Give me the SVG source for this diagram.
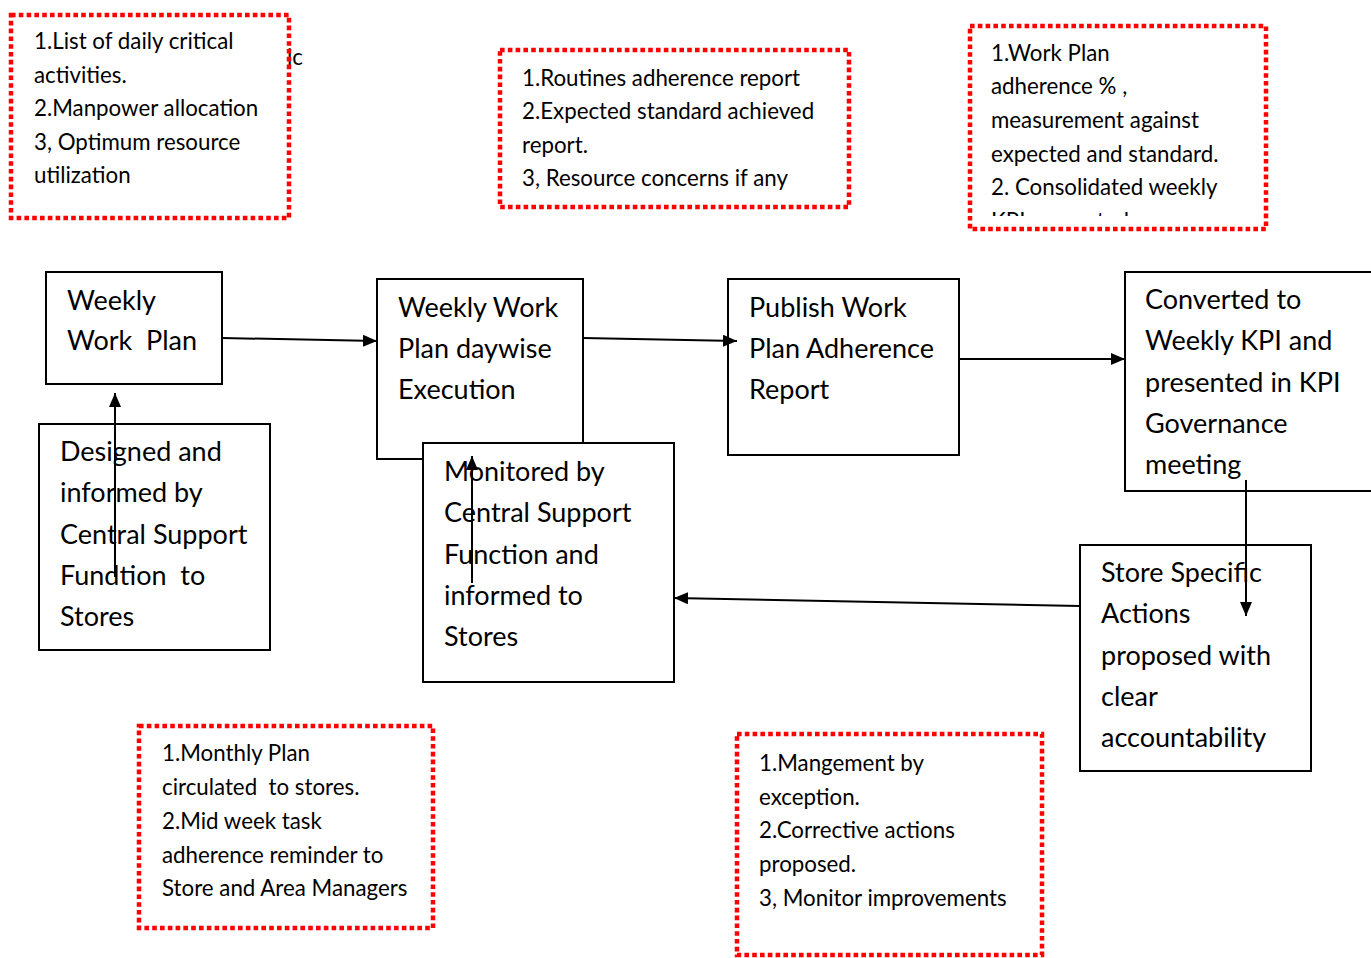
<svg xmlns="http://www.w3.org/2000/svg" width="1371" height="958" viewBox="0 0 1371 958">
  <defs>
    <marker id="arr" viewBox="0 0 14 12" refX="14" refY="6" markerWidth="14" markerHeight="12" markerUnits="userSpaceOnUse" orient="auto">
      <path d="M0,0 L14,6 L0,12 Z" fill="#000"/>
    </marker>
    <clipPath id="clipTR">
      <rect x="969" y="25" width="297" height="191"/>
    </clipPath>
  </defs>
  <style>
    .note { fill: none; stroke: #ff0000; stroke-width: 4.5; stroke-dasharray: 4.6 3.2; }
    .box { fill: #ffffff; stroke: #000000; stroke-width: 2; }
    .sm { font-family: Lato, "Liberation Sans", sans-serif; font-size: 22.3px; fill: #000; }
    .lg { font-family: Lato, "Liberation Sans", sans-serif; font-size: 27px; fill: #000; }
    .conn { stroke: #000; stroke-width: 2; fill: none; marker-end: url(#arr); }
  </style>
  <rect width="1371" height="958" fill="#ffffff"/>

  <g id="note-top-left">
    <text class="sm" x="287" y="65">ic</text>
    <rect class="note" x="11" y="15" width="278" height="203"/>
    <text class="sm" x="34" y="49">1.List of daily critical</text>
    <text class="sm" x="34" y="83">activities.</text>
    <text class="sm" x="34" y="116">2.Manpower allocation</text>
    <text class="sm" x="34" y="150">3, Optimum resource</text>
    <text class="sm" x="34" y="183">utilization</text>
  </g>

  <g id="note-top-middle">
    <rect class="note" x="500" y="50" width="349" height="157"/>
    <text class="sm" x="522" y="86">1.Routines adherence report</text>
    <text class="sm" x="522" y="119">2.Expected standard achieved</text>
    <text class="sm" x="522" y="153">report.</text>
    <text class="sm" x="522" y="186">3, Resource concerns if any</text>
  </g>

  <g id="note-top-right">
    <rect class="note" x="970" y="26" width="296" height="203"/>
    <g clip-path="url(#clipTR)">
      <text class="sm" x="991" y="61">1.Work Plan</text>
      <text class="sm" x="991" y="94">adherence % ,</text>
      <text class="sm" x="991" y="128">measurement against</text>
      <text class="sm" x="991" y="162">expected and standard.</text>
      <text class="sm" x="991" y="195">2. Consolidated weekly</text>
      <text class="sm" x="991" y="229">KPI presented</text>
    </g>
  </g>

  <g id="node-weekly-work-plan">
    <rect class="box" x="46" y="272" width="176" height="112"/>
    <text class="lg" x="67" y="310">Weekly</text>
    <text class="lg" x="67" y="350" xml:space="preserve">Work  Plan</text>
  </g>

  <g id="node-daywise-execution">
    <rect class="box" x="377" y="279" width="206" height="180"/>
    <text class="lg" x="398" y="317">Weekly Work</text>
    <text class="lg" x="398" y="358">Plan daywise</text>
    <text class="lg" x="398" y="399">Execution</text>
  </g>

  <g id="node-publish-report">
    <rect class="box" x="728" y="279" width="231" height="176"/>
    <text class="lg" x="749" y="317">Publish Work</text>
    <text class="lg" x="749" y="358">Plan Adherence</text>
    <text class="lg" x="749" y="399">Report</text>
  </g>

  <g id="node-converted-kpi">
    <rect class="box" x="1125" y="272" width="260" height="219"/>
    <text class="lg" x="1145" y="309">Converted to</text>
    <text class="lg" x="1145" y="350">Weekly KPI and</text>
    <text class="lg" x="1145" y="392">presented in KPI</text>
    <text class="lg" x="1145" y="433">Governance</text>
    <text class="lg" x="1145" y="474">meeting</text>
  </g>

  <g id="node-designed-informed">
    <rect class="box" x="39" y="424" width="231" height="226"/>
    <text class="lg" x="60" y="461">Designed and</text>
    <text class="lg" x="60" y="502">informed by</text>
    <text class="lg" x="60" y="544">Central Support</text>
    <text class="lg" x="60" y="585" xml:space="preserve">Fundtion  to</text>
    <text class="lg" x="60" y="626">Stores</text>
  </g>

  <g id="node-monitored">
    <rect class="box" x="423" y="443" width="251" height="239"/>
    <text class="lg" x="444" y="481">Monitored by</text>
    <text class="lg" x="444" y="522">Central Support</text>
    <text class="lg" x="444" y="564">Function and</text>
    <text class="lg" x="444" y="605">informed to</text>
    <text class="lg" x="444" y="646">Stores</text>
  </g>

  <g id="node-store-actions">
    <rect class="box" x="1080" y="545" width="231" height="226"/>
    <text class="lg" x="1101" y="582">Store Specific</text>
    <text class="lg" x="1101" y="623">Actions</text>
    <text class="lg" x="1101" y="665">proposed with</text>
    <text class="lg" x="1101" y="706">clear</text>
    <text class="lg" x="1101" y="747">accountability</text>
  </g>

  <g id="note-bottom-left">
    <rect class="note" x="139" y="726" width="294" height="202"/>
    <text class="sm" x="162" y="761">1.Monthly Plan</text>
    <text class="sm" x="162" y="795" xml:space="preserve">circulated  to stores.</text>
    <text class="sm" x="162" y="829">2.Mid week task</text>
    <text class="sm" x="162" y="863">adherence reminder to</text>
    <text class="sm" x="162" y="896">Store and Area Managers</text>
  </g>

  <g id="note-bottom-right">
    <rect class="note" x="737" y="734" width="305" height="221"/>
    <text class="sm" x="759" y="771">1.Mangement by</text>
    <text class="sm" x="759" y="805">exception.</text>
    <text class="sm" x="759" y="838">2.Corrective actions</text>
    <text class="sm" x="759" y="872">proposed.</text>
    <text class="sm" x="759" y="906">3, Monitor improvements</text>
  </g>

  <g id="connectors">
    <line class="conn" x1="222" y1="338" x2="377" y2="341"/>
    <line class="conn" x1="583" y1="338" x2="737" y2="341"/>
    <line class="conn" x1="959" y1="359" x2="1125" y2="359"/>
    <line class="conn" x1="1246" y1="480" x2="1246" y2="616"/>
    <line class="conn" x1="1080" y1="606" x2="674" y2="598"/>
    <line class="conn" x1="115" y1="577" x2="115" y2="393"/>
    <line class="conn" x1="472" y1="583" x2="472" y2="456"/>
  </g>
</svg>
